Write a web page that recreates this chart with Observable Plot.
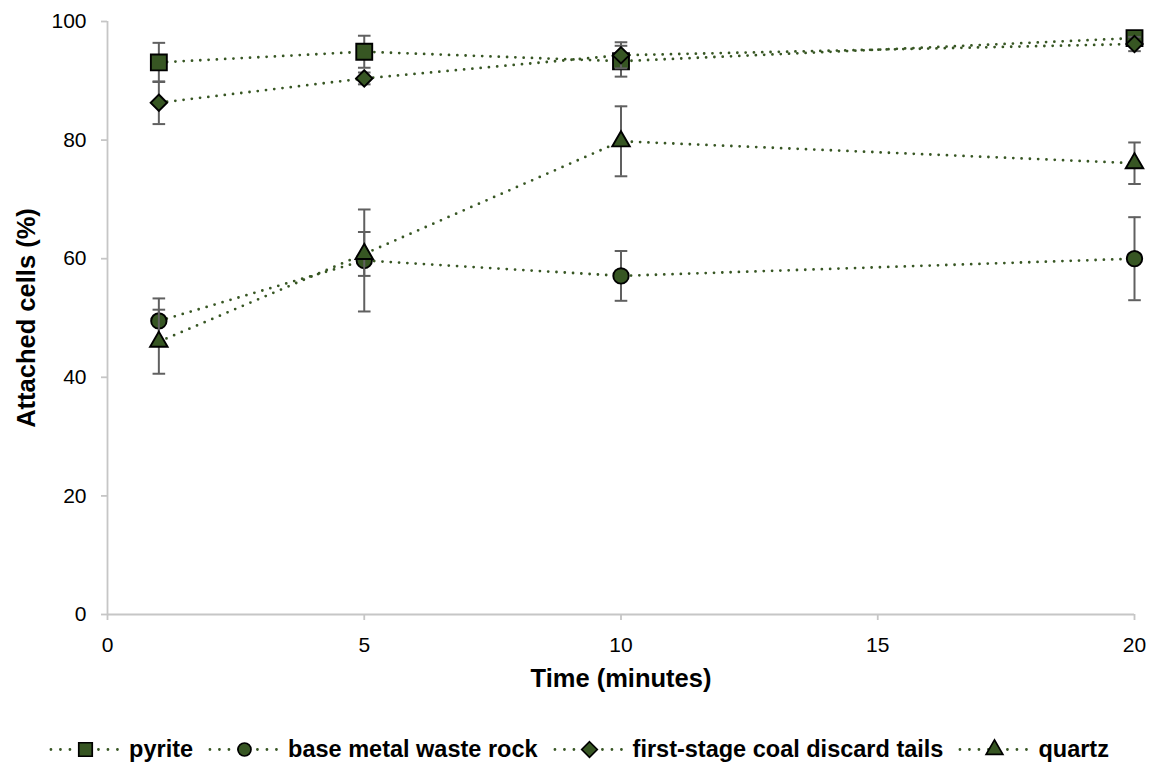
<!DOCTYPE html>
<html>
<head>
<meta charset="utf-8">
<script src="https://cdn.jsdelivr.net/npm/d3@7"></script>
<script src="https://cdn.jsdelivr.net/npm/@observablehq/plot@0.6"></script>
<style>
  body { margin: 0; background: #fff; font-family: "Liberation Sans", Arial, sans-serif; position: relative; width: 1158px; height: 762px; overflow: hidden; }
  #legend { position: absolute; left: 0; top: 737px; width: 1158px; height: 24px; display: flex; justify-content: center; align-items: center; gap: 15px; font-weight: bold; font-size: 23.5px; color: #000; }
  #legend .item { display: flex; align-items: center; gap: 8px; }
  #legend svg { display: block; }
</style>
</head>
<body>
<div id="chart"></div>
<div id="legend"></div>
<script>
const times = [1, 5, 10, 20];
const seriesNames = ["pyrite", "base metal waste rock", "first-stage coal discard tails", "quartz"];
const pyrite = [93.1, 94.9, 93.3, 97.2];
const pyriteErr = [3.3, 2.7, 2.6, 1.0];
const baseMetal = [49.5, 59.7, 57.1, 60.0];
const baseMetalErr = [3.8, 8.6, 4.2, 7.0];
const coal = [86.3, 90.4, 94.3, 96.2];
const coalErr = [3.6, 1.0, 2.2, 1.2];
const quartz = [46.0, 60.8, 79.8, 76.1];
const quartzErr = [5.4, 3.7, 5.9, 3.5];
const yTicks = [0, 20, 40, 60, 80, 100];
const xTicks = [0, 5, 10, 15, 20];

const GREEN = "#375623";
const AXIS = "#c6c6c6";
const symbols = ["square", "circle", "diamond2", "triangle"];
const sizes = [9, 7.7, 7.4, 6.5];
const legendSizes = [7.6, 6.5, 7, 6.2];

const seriesValues = [pyrite, baseMetal, coal, quartz];
const seriesErrs = [pyriteErr, baseMetalErr, coalErr, quartzErr];
const data = [];
seriesNames.forEach((name, i) => {
  times.forEach((t, j) => {
    data.push({series: name, time: t, value: seriesValues[i][j], err: seriesErrs[i][j]});
  });
});

const cap = {
  draw(context, size) {
    const w = 6.3;
    context.moveTo(-w, 0);
    context.lineTo(w, 0);
  }
};

const W = 1158, H = 720;
const marks = [
  Plot.ruleY([0], {stroke: AXIS, strokeWidth: 1.8}),
  Plot.ruleX([0], {y1: 0, y2: 100, stroke: AXIS, strokeWidth: 1.8}),
  Plot.axisY(yTicks, {tickSize: 6, tickPadding: 15, stroke: AXIS, strokeWidth: 1.8, fill: "#000", fontSize: 21, label: null}),
  Plot.axisX(xTicks, {tickSize: 6, tickPadding: 17, stroke: AXIS, strokeWidth: 1.8, fill: "#000", fontSize: 21, label: null}),
  Plot.text(["Time (minutes)"], {frameAnchor: "bottom", dy: 64, lineAnchor: "middle", textAnchor: "middle", fontWeight: "bold", fontSize: 25.5, fill: "#000"}),
  Plot.text(["Attached cells (%)"], {frameAnchor: "left", dx: -81, dy: 0, rotate: -90, lineAnchor: "middle", textAnchor: "middle", fontWeight: "bold", fontSize: 25.5, fill: "#000"})
];
seriesNames.forEach((name) => {
  const d = data.filter(r => r.series === name);
  marks.push(Plot.line(d, {x: "time", y: "value", stroke: GREEN, strokeWidth: 2.8, strokeDasharray: "0 8.3", strokeLinecap: "round"}));
});
seriesNames.forEach((name, i) => {
  const d = data.filter(r => r.series === name);
  marks.push(Plot.ruleX(d, {x: "time", y1: r => r.value - r.err, y2: r => r.value + r.err, stroke: "#606060", strokeWidth: 2}));
  marks.push(Plot.dot(d, {x: "time", y: r => r.value - r.err, symbol: cap, stroke: "#606060", strokeWidth: 2, r: 6}));
  marks.push(Plot.dot(d, {x: "time", y: r => r.value + r.err, symbol: cap, stroke: "#606060", strokeWidth: 2, r: 6}));
  marks.push(Plot.dot(d, {x: "time", y: "value", symbol: symbols[i], r: sizes[i], fill: GREEN, stroke: "#000", strokeWidth: 1.9}));
});

const chart = Plot.plot({
  width: W, height: H,
  marginLeft: 107, marginRight: 24, marginTop: 21, marginBottom: H - 614,
  style: {fontFamily: "'Liberation Sans', Arial, sans-serif", fontSize: "21px", color: "#000", background: "#fff"},
  x: {domain: [0, 20]},
  y: {domain: [0, 100]},
  symbol: {type: "identity"},
  marks
});
document.getElementById("chart").appendChild(chart);

// legend
const legend = document.getElementById("legend");
seriesNames.forEach((name, i) => {
  const item = document.createElement("div");
  item.className = "item";
  const sw = Plot.plot({
    width: 72, height: 24, margin: 0,
    x: {domain: [0, 1], axis: null}, y: {domain: [0, 1], axis: null},
    symbol: {type: "identity"},
    marks: [
      Plot.line([{x: 0.02, y: 0.5}, {x: 0.98, y: 0.5}], {x: "x", y: "y", stroke: GREEN, strokeWidth: 2.8, strokeDasharray: "0 9.5", strokeLinecap: "round"}),
      Plot.dot([{x: 0.5, y: 0.5}], {x: "x", y: "y", symbol: symbols[i], r: legendSizes[i], fill: GREEN, stroke: "#000", strokeWidth: 1.7})
    ]
  });
  item.appendChild(sw);
  const label = document.createElement("span");
  label.textContent = name;
  item.appendChild(label);
  legend.appendChild(item);
});
</script>
</body>
</html>
